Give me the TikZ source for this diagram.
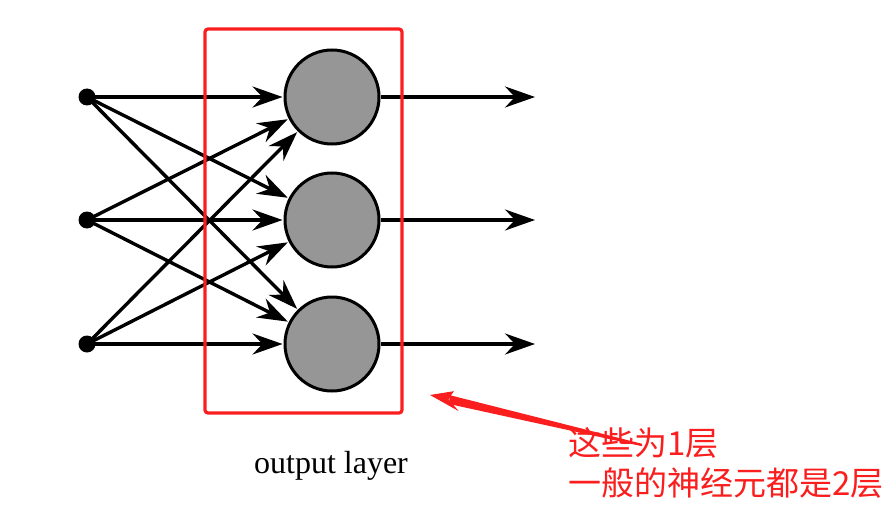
\documentclass[tikz,border=0pt]{standalone}
\usepackage{fontspec}
\setmainfont{Liberation Serif}
\newfontfamily\cjk{Noto Sans CJK SC}
\usepackage{tikz}
\usetikzlibrary{arrows.meta, positioning, calc}
\definecolor{markred}{RGB}{250,30,30}
\definecolor{cellgray}{RGB}{150,150,150}

\begin{document}
\begin{tikzpicture}[x=1pt,y=-1pt,thick]

\tikzstyle{input}=[circle,fill=black,inner sep=0pt,minimum size=17pt]
\tikzstyle{cell}=[circle,draw=black,line width=3pt,fill=cellgray,inner sep=0pt,minimum size=94pt]
\tikzstyle{link}=[line width=3.4pt,-{Stealth[length=30pt,width=21pt,inset=10pt]}]

\useasboundingbox (0,0) rectangle (893,513);

% inputs and output layer
\foreach \i/\y in {1/97,2/220,3/344}{
  \node (in\i) [input] at (87,\y) {};
  \node (out\i) [cell] at (332,\y) {};
  \coordinate (end\i) at (535,\y);
}

\foreach \i in {1,2,3}{
  \foreach \j in {1,2,3}{
    \draw [link, shorten >=1pt] (in\i.center) -- (out\j);
  }
  \draw [link] (out\i) -- (end\i);
}

\node (label) [anchor=base, font=\fontsize{32}{38}\selectfont] at (331,473) {output layer};

% annotation
\draw [markred, line width=3.2pt, rounded corners=3pt] (205,29) rectangle (402,413);
\node (note) [anchor=base west, inner sep=0pt, text=markred, align=left,
  font=\cjk\fontsize{33}{40}\selectfont] at (568,495) {这些为1层\\一般的神经元都是2层};
\coordinate (tip) at (430,395);
\coordinate (tail) at (642,445);
\fill [markred] ($(tail)+(0,-1.2)$) -- ($(tip)!20pt!(tail)+(0,-4.5)$) -- ($(tip)!20pt!(tail)+(0,4.5)$) -- ($(tail)+(0,1.2)$) -- cycle;
\fill [markred] (tip) -- ($(tip)!27pt!(tail)+(-2.5,-10)$) -- ($(tip)!19pt!(tail)$) -- ($(tip)!27pt!(tail)+(2.5,10)$) -- cycle;

\end{tikzpicture}
\end{document}
